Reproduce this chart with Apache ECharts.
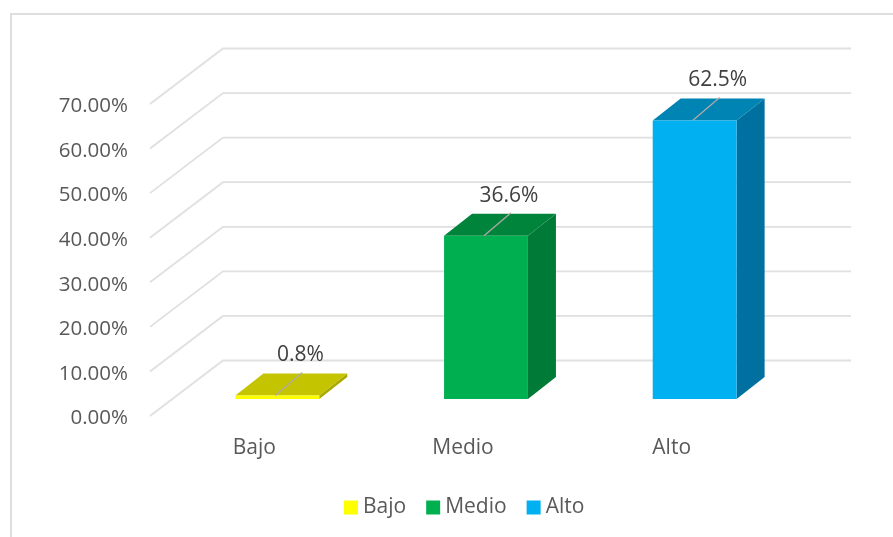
<!DOCTYPE html>
<html>
<head>
<meta charset="utf-8">
<style>
    html, body { margin: 0; padding: 0; background: #fff; }
    #chart { width: 893px; height: 537px; }
</style>
<script src="https://cdn.jsdelivr.net/npm/echarts@6/dist/echarts.min.js"></script>
</head>
<body>
<div id="chart"></div>
<script>
    var categories = ['Bajo', 'Medio', 'Alto']
    var values = [0.8, 36.6, 62.5]
    var valueLabels = ['0.8%', '36.6%', '62.5%']
    var tickValues = [0, 10, 20, 30, 40, 50, 60, 70]

    var frontColors = ['#ffff00', '#00b050', '#00b0f0']
    var topColors = ['#c4c400', '#00843c', '#0084b4']
    var sideColors = ['#a8a800', '#007a37', '#0070a0']

    // fake depth of the 3d box, in pixels
    var wallDx = 73, wallDy = 55.5
    var wallRight = 851
    var barDx = 23, barDy = 17
    var boxDx = 28, boxDy = 22

    var textFont = '"Open Sans", sans-serif'

    function poly(points, color) {
        return { type: 'polygon', shape: { points: points }, style: { fill: color } }
    }

    function renderWall(params, api) {
        var cs = params.coordSys
        var y = api.coord([0, api.value(0)])[1]
        return {
            type: 'polyline',
            shape: { points: [[cs.x, y], [cs.x + wallDx, y - wallDy], [wallRight, y - wallDy]] },
            style: { fill: null, stroke: '#e0e0e0', lineWidth: 1.8 }
        }
    }

    function renderBox(i) {
        return function (params, api) {
            var base = api.coord([api.value(0), 0])
            var top = api.coord([api.value(0), api.value(1)])
            var w = api.size([1, 0])[0] * 0.402
            var l = base[0] + barDx - w / 2
            var r = l + w
            var by = base[1] - barDy
            var ty = top[1] - barDy
            var cx = l + w / 2
            return {
                type: 'group',
                children: [
                    poly([[r, by], [r + boxDx, by - boxDy], [r + boxDx, ty - boxDy], [r, ty]], sideColors[i]),
                    poly([[l, ty], [l + boxDx, ty - boxDy], [r + boxDx, ty - boxDy], [r, ty]], topColors[i]),
                    { type: 'rect', shape: { x: l, y: ty, width: w, height: Math.max(by - ty, 2) }, style: { fill: frontColors[i] } },
                    {
                        type: 'line',
                        shape: { x1: cx - 2, y1: ty, x2: cx + boxDx - 3, y2: ty - boxDy - 1 },
                        style: { stroke: '#b0aaa6', lineWidth: 1.3 }
                    },
                    {
                        type: 'text',
                        x: cx + boxDx - 5,
                        y: ty - boxDy - 18,
                        style: {
                            text: valueLabels[i],
                            font: '21px ' + textFont,
                            fill: '#404040',
                            align: 'center',
                            verticalAlign: 'middle'
                        }
                    }
                ]
            }
        }
    }

    var series = [{
        type: 'custom',
        silent: true,
        z: 1,
        encode: { y: 0 },
        data: tickValues,
        renderItem: renderWall
    }]
    categories.forEach(function (name, i) {
        series.push({
            name: name,
            type: 'custom',
            z: 2,
            itemStyle: { color: frontColors[i] },
            encode: { x: 0, y: 1 },
            data: [[name, values[i]]],
            renderItem: renderBox(i)
        })
    })

    var chart = echarts.init(document.getElementById('chart'), null, { renderer: 'canvas' })
    chart.setOption({
        animation: false,
        backgroundColor: '#ffffff',
        grid: { left: 150, top: 104, width: 626, height: 312 },
        xAxis: {
            type: 'category',
            data: categories,
            axisLine: { show: false },
            axisTick: { show: false },
            splitLine: { show: false },
            axisLabel: { color: '#595959', fontFamily: textFont, fontSize: 21, margin: 22 }
        },
        yAxis: {
            type: 'value',
            min: 0,
            max: 70,
            interval: 10,
            axisLine: { show: false },
            axisTick: { show: false },
            splitLine: { show: false },
            axisLabel: {
                color: '#595959',
                fontFamily: textFont,
                fontSize: 20.5,
                margin: 22,
                verticalAlign: 'top',
                lineHeight: 5,
                formatter: function (v) { return v.toFixed(2) + '%' }
            }
        },
        legend: {
            data: categories,
            left: 339,
            top: 492,
            icon: 'rect',
            itemWidth: 14,
            itemHeight: 14,
            itemGap: 20,
            textStyle: { color: '#595959', fontFamily: textFont, fontSize: 21 }
        },
        graphic: [{
            type: 'polyline',
            silent: true,
            shape: { points: [[11, 537], [11, 14], [893, 14]] },
            style: { fill: null, stroke: '#dedede', lineWidth: 2 }
        }],
        series: series
    })
</script>
</body>
</html>
